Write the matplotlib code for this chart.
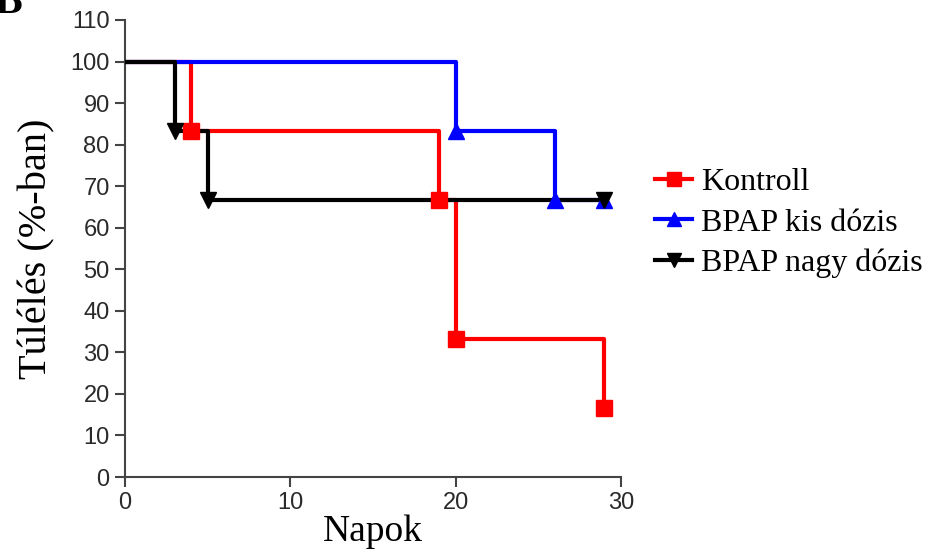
import matplotlib.pyplot as plt
from matplotlib.lines import Line2D

# Kaplan-Meier survival data (day, survival %)
kontroll_days = [0, 4, 19, 20, 29]
kontroll_surv = [100, 83.3, 66.7, 33.3, 16.7]

kis_days = [0, 20, 26, 29]
kis_surv = [100, 83.3, 66.7, 66.7]

nagy_days = [0, 3, 5, 29]
nagy_surv = [100, 83.3, 66.7, 66.7]

labels = ["Kontroll", "BPAP kis dózis", "BPAP nagy dózis"]
colors = ["#ff0000", "#0000ff", "#000000"]
markers = ["s", "^", "v"]

fig = plt.figure(figsize=(9.36, 5.57), dpi=100)
ax = fig.add_axes([0.1335, 0.1436, 0.53, 0.8205])

series = [(kontroll_days, kontroll_surv), (kis_days, kis_surv), (nagy_days, nagy_surv)]
for i, ((d, s), c, m) in enumerate(zip(series, colors, markers)):
    ax.step(d, s, where="post", color=c, lw=3, zorder=2 + i, solid_capstyle="butt")
for i, ((d, s), c, m) in enumerate(zip(series, colors, markers)):
    ax.plot(d[1:], s[1:], ls="none", marker=m, color=c, ms=11.5, zorder=6 + i)

ax.set_xlim(0, 30)
ax.set_ylim(0, 110)
ax.set_xticks([0, 10, 20, 30])
ax.set_yticks(range(0, 111, 10))
ax.spines["top"].set_visible(False)
ax.spines["right"].set_visible(False)
for sp in ("left", "bottom"):
    ax.spines[sp].set_color("#444444")
    ax.spines[sp].set_linewidth(1.5)
ax.tick_params(direction="out", length=7, width=1.5, color="#444444",
               labelsize=17, labelcolor="#2a2a2a", pad=4)
for t in ax.get_xticklabels() + ax.get_yticklabels():
    t.set_fontfamily("Liberation Sans")

ax.set_xlabel("Napok", fontfamily="Liberation Serif", fontsize=27, labelpad=0)
ax.set_ylabel("Túlélés (%-ban)", fontfamily="Liberation Serif", fontsize=29, labelpad=11)

handles = [Line2D([], [], color=c, marker=m, lw=3, ms=10) for c, m in zip(colors, markers)]
ax.legend(handles, labels, loc="center left", bbox_to_anchor=(1.043, 0.556),
          frameon=False, prop={"family": "Liberation Serif", "size": 23},
          handlelength=1.15, handletextpad=0.3, labelspacing=0.34, borderaxespad=0)

fig.text(-0.006, 0.976, "B", fontfamily="Liberation Serif", fontweight="bold",
         fontsize=30, va="baseline", ha="left")

fig.savefig("out.png", dpi=100)
